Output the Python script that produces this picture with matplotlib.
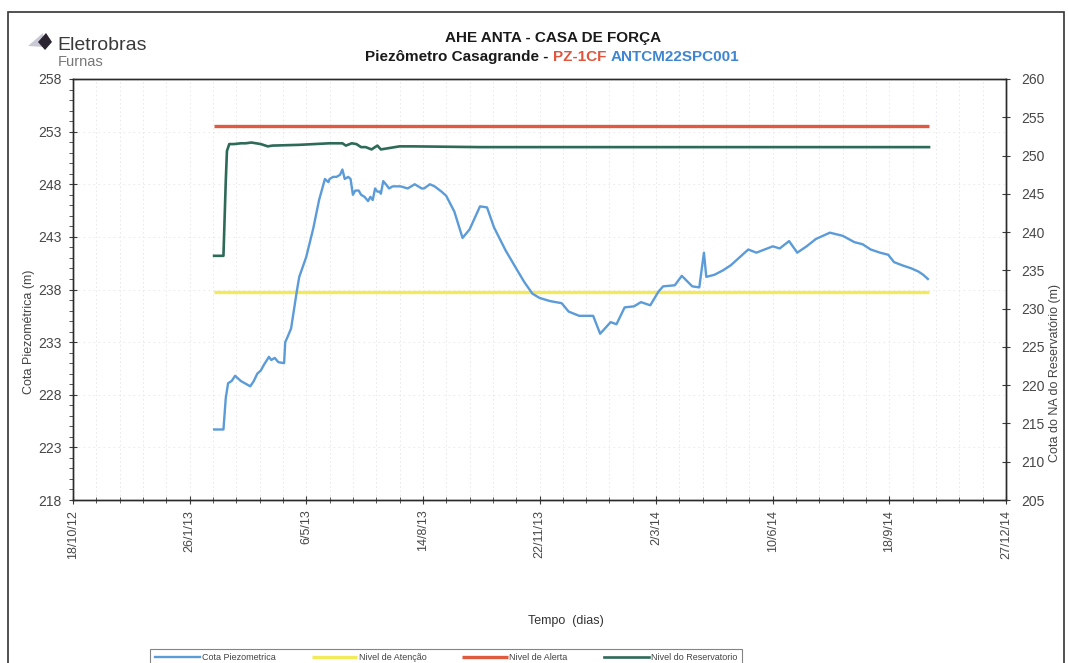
import numpy as np
import pandas as pd
import matplotlib
matplotlib.use("Agg")
import matplotlib.pyplot as plt
import matplotlib.dates as mdates
from matplotlib.ticker import FixedLocator, MultipleLocator
from matplotlib.patches import Polygon, Rectangle

plt.rcParams["font.family"] = ["Liberation Sans", "DejaVu Sans"]

# ---- data -------------------------------------------------------------
start_date = pd.Timestamp("2012-10-18")

# Cota piezométrica (m) — days since 18/10/2012
piezo_days = [121, 129, 131, 133, 136, 139, 144, 152, 155, 158, 161, 164, 168,
              170, 173, 176, 181, 182, 184, 187, 192, 194, 200, 206, 211, 216,
              219, 220, 223, 226, 229, 231, 233, 236, 238, 240, 242, 245, 247,
              250, 253, 255, 257, 259, 261, 263, 264, 266, 269, 271, 274, 281,
              287, 293, 299, 301, 306, 310, 316, 320, 327, 334, 340, 349, 355,
              361, 371, 380, 387, 394, 400, 409, 419, 425, 434, 446, 452, 461,
              466, 473, 481, 487, 495, 502, 506, 516, 522, 531, 537, 541, 543,
              550, 557, 564, 571, 579, 586, 593, 600, 606, 614, 621, 629, 637,
              649, 660, 670, 677, 684, 692, 699, 704, 711, 719, 725, 729, 733]
piezo_level = [224.7, 224.7, 227.7, 229.1, 229.3, 229.8, 229.3, 228.8, 229.3,
               230.0, 230.3, 230.9, 231.6, 231.3, 231.5, 231.1, 231.0, 233.0,
               233.5, 234.3, 237.9, 239.2, 241.1, 243.8, 246.5, 248.5, 248.2,
               248.5, 248.7, 248.7, 248.9, 249.4, 248.5, 248.7, 248.5, 247.0,
               247.4, 247.4, 247.0, 246.8, 246.4, 246.8, 246.5, 247.6, 247.3,
               247.3, 247.1, 248.3, 247.9, 247.6, 247.8, 247.8, 247.6, 248.0,
               247.6, 247.6, 248.0, 247.8, 247.3, 246.9, 245.4, 242.9, 243.7,
               245.9, 245.8, 243.9, 241.7, 240.0, 238.7, 237.6, 237.2, 236.9,
               236.7, 235.9, 235.5, 235.5, 233.8, 234.9, 234.7, 236.3, 236.4,
               236.8, 236.5, 237.8, 238.3, 238.4, 239.3, 238.3, 238.2, 241.5,
               239.2, 239.4, 239.8, 240.3, 241.0, 241.8, 241.5, 241.8, 242.1,
               241.9, 242.6, 241.5, 242.1, 242.8, 243.4, 243.1, 242.5, 242.3,
               241.8, 241.5, 241.3, 240.6, 240.3, 240.0, 239.7, 239.4, 239.0]

# Nível do reservatório (m) — right axis
reserv_days = [121, 129, 131, 132, 134, 138, 144, 148, 153, 157, 161, 167, 171,
               194, 220, 231, 234, 239, 243, 247, 251, 256, 258, 261, 264, 268,
               280, 291, 349, 734]
reserv_level = [236.9, 236.9, 246.7, 250.6, 251.5, 251.5, 251.6, 251.6, 251.7,
                251.6, 251.5, 251.2, 251.3, 251.4, 251.6, 251.6, 251.3, 251.6,
                251.5, 251.1, 251.1, 250.8, 251.0, 251.3, 250.8, 250.9, 251.2,
                251.2, 251.1, 251.1]

# Níveis de controle (m)
limit_days = [121, 734]
atencao_level = [237.8, 237.8]
alerta_level = [253.5, 253.5]

x_tick_labels = ["18/10/12", "26/1/13", "6/5/13", "14/8/13", "22/11/13",
                 "2/3/14", "10/6/14", "18/9/14", "27/12/14"]
left_ticks = [218, 223, 228, 233, 238, 243, 248, 253, 258]
right_ticks = [205, 210, 215, 220, 225, 230, 235, 240, 245, 250, 255, 260]

legend_labels = ["Cota Piezometrica", "Nivel de Atenção", "Nivel de Alerta",
                 "Nivel do Reservatorio"]


def to_dates(days):
    return start_date + pd.to_timedelta(np.asarray(days), unit="D")


# ---- figure -----------------------------------------------------------
W, H = 1068, 663
fig = plt.figure(figsize=(W / 100, H / 100), dpi=100)


def fx(px):
    return px / W


def fy(py):
    return 1 - py / H


ax = fig.add_axes([fx(73), fy(500), fx(1006 - 73), 421 / H])
ax2 = ax.twinx()

c_blue = "#5b9bd8"
c_yellow = "#f2ea5a"
c_red = "#df5a3e"
c_green = "#2e6a58"

l_yel, = ax.plot(to_dates(limit_days), atencao_level, color=c_yellow, lw=2.4,
                 solid_capstyle="butt", zorder=3)
l_red, = ax.plot(to_dates(limit_days), alerta_level, color=c_red, lw=2.4,
                 solid_capstyle="butt", zorder=3)
l_blue, = ax.plot(to_dates(piezo_days), piezo_level, color=c_blue, lw=1.7,
                  zorder=4)
l_green, = ax2.plot(to_dates(reserv_days), reserv_level, color=c_green, lw=1.9,
                    zorder=4)

# axes ranges and ticks
tick_dates = pd.to_datetime(x_tick_labels, format="%d/%m/%y")
ax.set_xlim(tick_dates[0], tick_dates[-1])
ax.set_ylim(left_ticks[0], left_ticks[-1])
ax2.set_ylim(right_ticks[0], right_ticks[-1])

ax.xaxis.set_major_locator(FixedLocator(mdates.date2num(tick_dates)))
ax.set_xticklabels(x_tick_labels, rotation=90)
minor_x = pd.date_range(tick_dates[0], tick_dates[-1], freq="20D")
ax.xaxis.set_minor_locator(FixedLocator(mdates.date2num(minor_x)))

ax.yaxis.set_major_locator(FixedLocator(left_ticks))
ax.yaxis.set_minor_locator(MultipleLocator(1))
ax2.yaxis.set_major_locator(FixedLocator(right_ticks))

tick_col = "#3a3a3a"
lab_col = "#474747"
ax.tick_params(axis="x", which="major", direction="inout", length=6, width=0.8,
               labelsize=9, colors=tick_col, labelcolor=lab_col, pad=4)
ax.tick_params(axis="x", which="minor", direction="inout", length=4, width=0.6,
               colors=tick_col)
ax.tick_params(axis="y", which="major", direction="inout", length=6, width=0.8,
               labelsize=10, colors=tick_col, labelcolor=lab_col, pad=5)
ax.tick_params(axis="y", which="minor", direction="out", length=3, width=0.6,
               colors=tick_col)
ax2.tick_params(axis="y", which="major", direction="inout", length=6, width=0.8,
                labelsize=10, colors=tick_col, labelcolor=lab_col, pad=8)

for a in (ax, ax2):
    for s in a.spines.values():
        s.set_color("#2a2a2a")
        s.set_linewidth(1.0)

# faint grid
ax.grid(which="both", axis="x", color="#e6e6e6", lw=0.6, ls=(0, (2, 3)))
ax.grid(which="major", axis="y", color="#e8e8e8", lw=0.6, ls=(0, (2, 4)))
ax.set_axisbelow(True)

# axis labels
fig.text(fx(29), fy(332), "Cota Piezométrica (m)", rotation=90, ha="center",
         va="center", fontsize=9, color="#444444")
fig.text(fx(1055), fy(373), "Cota do NA do Reservatório (m)", rotation=90,
         ha="center", va="center", fontsize=9, color="#444444")
fig.text(fx(566), fy(621), "Tempo  (dias)", ha="center", va="center",
         fontsize=9, color="#333333")

# titles
fig.text(fx(553), fy(38), "AHE ANTA - CASA DE FORÇA", ha="center", va="center",
         fontsize=11, fontweight="bold", color="#1a1a1a")
sub_parts = [("Piezômetro Casagrande - ", "#1a1a1a"), ("PZ-1CF ", "#e0553c"),
             ("ANTCM22SPC001", "#3f86d2")]
sub_texts = [fig.text(0, fy(57), s, ha="left", va="center", fontsize=11,
                      fontweight="bold", color=c) for s, c in sub_parts]
fig.canvas.draw()
rend = fig.canvas.get_renderer()
widths = [t.get_window_extent(rend).width for t in sub_texts]
xpos = 552 - sum(widths) / 2
for t, w in zip(sub_texts, widths):
    t.set_x(fx(xpos))
    xpos += w

# logo
wing = Polygon([[fx(28), fy(46)], [fx(43), fy(33)], [fx(44), fy(47)]],
               closed=True, transform=fig.transFigure, facecolor="#c9c9d6",
               edgecolor="none")
gem = Polygon([[fx(38), fy(42)], [fx(46), fy(33)], [fx(52), fy(42)],
               [fx(45), fy(50)]], closed=True, transform=fig.transFigure,
              facecolor="#2a2430", edgecolor="none")
fig.patches.extend([wing, gem])
fig.text(fx(57), fy(45), "Eletrobras", ha="left", va="center", fontsize=14,
         color="#3a3a3a")
fig.text(fx(58), fy(62), "Furnas", ha="left", va="center", fontsize=10.5,
         color="#777777")

# page frame
frame = Rectangle((fx(8), fy(700)), fx(1064 - 8), (700 - 12) / H,
                  transform=fig.transFigure, fill=False, edgecolor="#333333",
                  lw=1.2)
fig.patches.append(frame)

# legend
leg = fig.legend([l_blue, l_yel, l_red, l_green], legend_labels,
                 loc="upper center", bbox_to_anchor=(fx(446), fy(644)),
                 ncol=4, fontsize=6.5, frameon=True, fancybox=False,
                 handlelength=5.0, handletextpad=0.2, columnspacing=4.0,
                 borderpad=0.5, edgecolor="#666666")
leg.get_frame().set_linewidth(0.8)
for t in leg.get_texts():
    t.set_color("#444444")

fig.savefig("out.png", dpi=100)
